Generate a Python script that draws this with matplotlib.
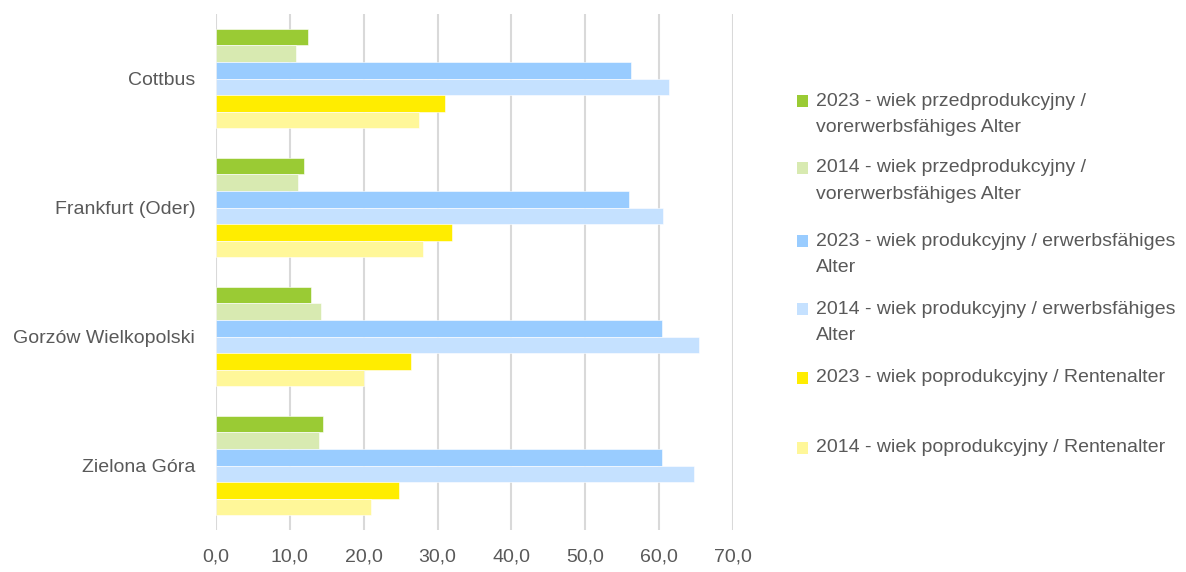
import matplotlib
matplotlib.use("Agg")
import matplotlib.pyplot as plt
from matplotlib.patches import Rectangle

plt.rcParams['font.family'] = ['Liberation Sans', 'DejaVu Sans']

cities = ["Cottbus", "Frankfurt (Oder)", "Gorzów Wielkopolski", "Zielona Góra"]
series_labels = [
    ["2023 - wiek przedprodukcyjny /", "vorerwerbsfähiges Alter"],
    ["2014 - wiek przedprodukcyjny /", "vorerwerbsfähiges Alter"],
    ["2023 - wiek produkcyjny / erwerbsfähiges", "Alter"],
    ["2014 - wiek produkcyjny / erwerbsfähiges", "Alter"],
    ["2023 - wiek poprodukcyjny / Rentenalter"],
    ["2014 - wiek poprodukcyjny / Rentenalter"],
]
pre_2023 = [12.5, 11.9, 12.9, 14.5]
pre_2014 = [10.8, 11.1, 14.2, 13.9]
prod_2023 = [56.2, 55.9, 60.4, 60.4]
prod_2014 = [61.3, 60.5, 65.4, 64.7]
post_2023 = [31.0, 32.0, 26.4, 24.8]
post_2014 = [27.5, 28.0, 20.0, 21.0]
x_ticks = [0, 10, 20, 30, 40, 50, 60, 70]

series = [pre_2023, pre_2014, prod_2023, prod_2014, post_2023, post_2014]
colors = ["#9ACB34", "#D8EAB1", "#99CCFF", "#C5E1FF", "#FFED00", "#FFF799"]

W, H = 1186, 572
fig = plt.figure(figsize=(W / 100, H / 100), dpi=100)
ax = fig.add_axes([216 / W, 1 - 530 / H, (733 - 216) / W, (530 - 14) / H])

h = 0.128
for j, (vals, c) in enumerate(zip(series, colors)):
    pos = [i + (j - 2.5) * h for i in range(len(cities))]
    ax.barh(pos, vals, height=h, color=c, edgecolor="white", linewidth=0.4, zorder=3)

ax.set_ylim(3.5, -0.5)
ax.set_xlim(0, 70)
ax.set_xticks(x_ticks)
ax.set_xticklabels([f"{v:.1f}".replace(".", ",") for v in x_ticks],
                   fontsize=14, color="#595959")
ax.set_yticks(range(len(cities)))
ax.set_yticklabels(cities, fontsize=14, color="#595959")
ax.tick_params(axis="both", length=0)
ax.tick_params(axis="x", pad=13)
ax.tick_params(axis="y", pad=15)
ax.grid(axis="x", color="#D9D9D9", linewidth=1.5, zorder=0)
for s in ax.spines.values():
    s.set_visible(False)

# legend
leg_y = [101, 168, 241, 309, 378, 448]
for lines, c, y in zip(series_labels, colors, leg_y):
    fig.patches.append(Rectangle((797 / W, 1 - (y + 6) / H), 11 / W, 12 / H,
                                 transform=fig.transFigure, facecolor=c, edgecolor="none"))
    for k, line in enumerate(lines):
        fig.text(816 / W, 1 - (y + 27 * k) / H, line, fontsize=14, color="#595959",
                 va="center", ha="left")

fig.savefig("out.png", dpi=100)
